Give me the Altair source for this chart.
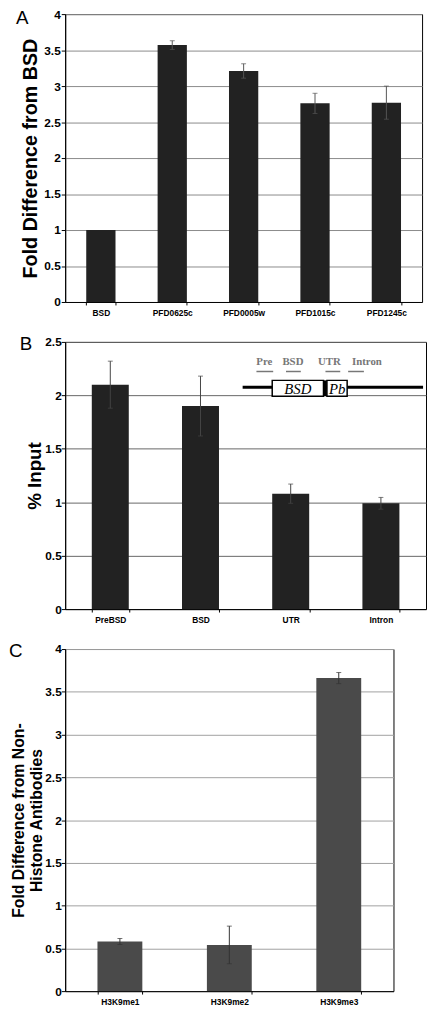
import altair as alt
import pandas as pd

# ---------------- data ----------------
A_cats = ["BSD", "PFD0625c", "PFD0005w", "PFD1015c", "PFD1245c"]
A_vals = [1.0, 3.57, 3.21, 2.76, 2.77]
A_err = [0.0, 0.06, 0.10, 0.14, 0.23]

B_cats = ["PreBSD", "BSD", "UTR", "Intron"]
B_vals = [2.10, 1.90, 1.08, 0.99]
B_err = [0.22, 0.28, 0.09, 0.055]

C_cats = ["H3K9me1", "H3K9me2", "H3K9me3"]
C_vals = [0.58, 0.54, 3.66]
C_err = [0.035, 0.22, 0.065]

A_ticks = [0, 0.5, 1, 1.5, 2, 2.5, 3, 3.5, 4]
B_ticks = [0, 0.5, 1, 1.5, 2, 2.5]
C_ticks = [0, 0.5, 1, 1.5, 2, 2.5, 3, 3.5, 4]

diagram_labels = ["Pre", "BSD", "UTR", "Intron"]
diagram_boxes = ["BSD", "Pb"]

SANS = "Liberation Sans"
SERIF = "Liberation Serif"


def panel(cats, vals, errs, ticks, ymax, color, err_color, grid_color,
          width, height, title, title_size, title_pad, title_lh,
          letter, letter_x, letter_y=-6.5, label_pad_y=1):
    df = pd.DataFrame({"cat": cats, "val": vals, "err": errs})
    df["lo"] = df["val"] - df["err"]
    df["hi"] = df["val"] + df["err"]
    xscale = alt.Scale(paddingInner=0.59, paddingOuter=0.295)
    xaxis = alt.Axis(title=None, labelAngle=0, tickBand="extent",
                     labelFont=SANS, labelFontSize=8.5, labelFontWeight="bold",
                     labelColor="black", tickSize=3, labelPadding=4,
                     domainColor="black", tickColor="black", grid=False)
    yaxis = dict(values=ticks, format="~g", title=title, titleFont=SANS,
                 titleFontSize=title_size, titleFontWeight="bold",
                 titleColor="black", titlePadding=title_pad,
                 labelFont=SANS, labelFontSize=12, labelFontWeight="bold",
                 labelColor="black", labelPadding=label_pad_y, tickSize=4,
                 labelOverlap=False, labelBound=False, labelFlush=False,
                 tickColor="black", domainColor="black", grid=True,
                 gridColor=grid_color, gridWidth=1)
    if title_lh:
        yaxis["titleLineHeight"] = title_lh
    yscale = alt.Scale(domain=[0, ymax], nice=False, zero=True)
    xenc = alt.X("cat:N", sort=cats, scale=xscale, axis=xaxis)
    base = alt.Chart(df)
    bars = base.mark_bar(color=color).encode(
        x=xenc, y=alt.Y("val:Q", scale=yscale, axis=alt.Axis(**yaxis)))
    eb = base.transform_filter("datum.err > 0")
    rule = eb.mark_rule(color=err_color, strokeWidth=1).encode(
        x=xenc, y=alt.Y("lo:Q", scale=yscale, axis=alt.Axis(**yaxis)), y2="hi:Q")
    cap_hi = eb.mark_tick(color=err_color, size=5, thickness=1).encode(
        x=xenc, y=alt.Y("hi:Q", scale=yscale, axis=alt.Axis(**yaxis)))
    cap_lo = eb.mark_tick(color=err_color, size=5, thickness=1).encode(
        x=xenc, y=alt.Y("lo:Q", scale=yscale, axis=alt.Axis(**yaxis)))
    let = alt.Chart(pd.DataFrame({"t": [letter]})).mark_text(
        align="left", baseline="top", font=SANS, fontSize=19, color="black"
    ).encode(x=alt.value(letter_x), y=alt.value(letter_y), text="t:N")
    return [bars, rule, cap_hi, cap_lo, let], width, height


# Panel A
la, wa, ha = panel(A_cats, A_vals, A_err, A_ticks, 4, "#222222", "#555555", "#8a8a8a",
                   362, 292, "Fold Difference from BSD", 20, 3, None, "A", -50,
                   letter_y=-5)
chartA = alt.layer(*la).properties(width=wa, height=ha)

# Panel B with schematic inset
lb, wb, hb = panel(B_cats, B_vals, B_err, B_ticks, 2.5, "#222222", "#444444", "#666666",
                   366, 271, "% Input", 19, 0, None, "B", -46, label_pad_y=0)

one = alt.Chart(pd.DataFrame({"k": [0]}))
inset = []
inset.append(one.mark_rule(color="black", strokeWidth=3).encode(
    x=alt.value(180), x2=alt.value(363), y=alt.value(46)))
inset.append(one.mark_rect(fill="white", stroke="black", strokeWidth=1.5).encode(
    x=alt.value(210), x2=alt.value(262), y=alt.value(39), y2=alt.value(55)))
inset.append(one.mark_rect(fill="black").encode(
    x=alt.value(262), x2=alt.value(265.5), y=alt.value(39), y2=alt.value(55)))
inset.append(one.mark_rect(fill="white", stroke="black", strokeWidth=1.5).encode(
    x=alt.value(265.5), x2=alt.value(286), y=alt.value(39), y2=alt.value(55)))
box_x = [236, 276]
for name, bx in zip(diagram_boxes, box_x):
    inset.append(alt.Chart(pd.DataFrame({"t": [name]})).mark_text(
        font=SERIF, fontStyle="italic", fontSize=15, align="center",
        baseline="middle", color="black").encode(
        x=alt.value(bx), y=alt.value(48), text="t:N"))
lab_x = [202, 231, 268, 306]
dash = [(194, 211), (224, 239), (264, 279), (287, 303)]
for name, lx, (d0, d1) in zip(diagram_labels, lab_x, dash):
    inset.append(alt.Chart(pd.DataFrame({"t": [name]})).mark_text(
        font=SERIF, fontWeight="bold", fontSize=11, align="center",
        baseline="alphabetic", color="#777777").encode(
        x=alt.value(lx), y=alt.value(23), text="t:N"))
    inset.append(one.mark_rule(color="#777777", strokeWidth=1.5).encode(
        x=alt.value(d0), x2=alt.value(d1), y=alt.value(30)))
chartB = alt.layer(*(lb + inset)).properties(width=wb, height=hb)

# Panel C
lc, wc, hc = panel(C_cats, C_vals, C_err, C_ticks, 4, "#4a4a4a", "#333333", "#a0a0a0",
                   333, 347, ["Fold Difference from Non-", "Histone Antibodies"],
                   16, 0, 19, "C", -57, label_pad_y=0)
chartC = alt.layer(*lc).properties(width=wc, height=hc)

chart = alt.vconcat(chartA, chartB, chartC, spacing=17.5).properties(
    padding={"top": -8, "left": 0, "right": 0, "bottom": 0}
).configure_view(stroke="black", strokeWidth=1)

chart.save("out.html", embed_options={"renderer": "svg", "actions": False})
